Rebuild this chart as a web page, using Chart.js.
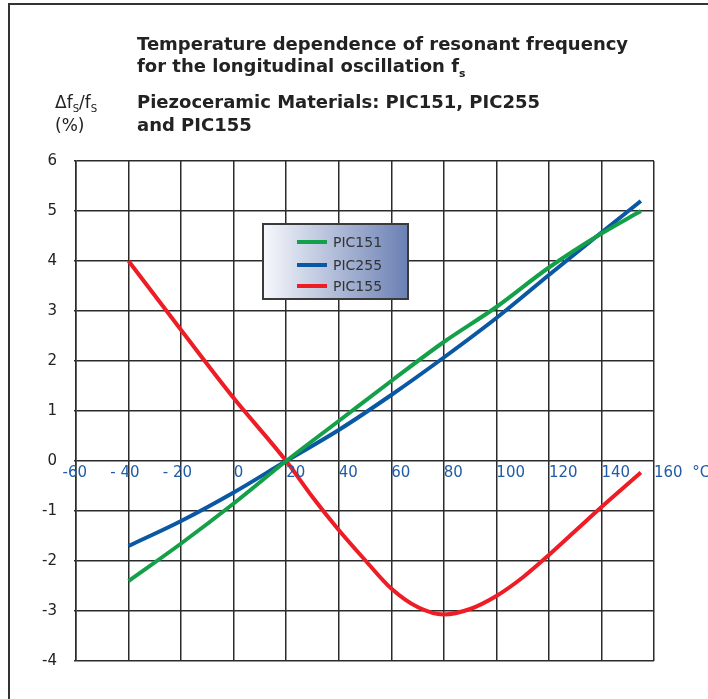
<!DOCTYPE html>
<html>
<head>
<meta charset="utf-8">
<script src="https://cdn.jsdelivr.net/npm/chart.js@4.4.1/dist/chart.umd.min.js"></script>
<style>
  body { margin: 0; background: #fff; overflow: hidden; }
  #wrap { position: relative; width: 708px; height: 699px; overflow: hidden; }
  canvas { position: absolute; left: 0; top: 0; }
  .txt { position: absolute; font-family: 'DejaVu Sans', sans-serif; color: #222; white-space: nowrap; }
  .title { font-weight: 700; font-size: 18px; left: 137px; }
  .unit { font-size: 17px; left: 55px; }
  sub { font-size: 60%; }
</style>
</head>
<body>
<div id="wrap">
  <canvas id="myChart" width="708" height="699"></canvas>
  <div class="txt title" style="top:33px">Temperature dependence of resonant frequency</div>
  <div class="txt title" style="top:55px">for the longitudinal oscillation f<sub>s</sub></div>
  <div class="txt title" style="top:91px">Piezoceramic Materials: PIC151, PIC255</div>
  <div class="txt title" style="top:114px">and PIC155</div>
  <div class="txt unit" style="top:92px">&Delta;f<sub>S</sub>/f<sub>S</sub></div>
  <div class="txt unit" style="top:115px">(%)</div>
</div>
<script>
'use strict';

// data
let tempC = [-40, -20, 0, 20, 40, 60, 80, 100, 120, 140, 155];
let pic151 = [-2.4, -1.65, -0.85, 0, 0.8, 1.6, 2.38, 3.08, 3.87, 4.55, 5.0];
let pic255 = [-1.7, -1.2, -0.63, 0, 0.62, 1.32, 2.07, 2.86, 3.72, 4.57, 5.2];
let tempRed = [-40, -20, 0, 20, 30, 40, 50, 60, 70, 80, 90, 100, 110, 120, 130, 140, 155];
let pic155 = [4.0, 2.62, 1.26, 0, -0.72, -1.38, -1.98, -2.55, -2.92, -3.07, -2.96, -2.7, -2.33, -1.88, -1.4, -0.92, -0.23];
let xTickLabels = ['-60', '- 40', '- 20', '0', '20', '40', '60', '80', '100', '120', '140', '160  \u00b0C'];

function toPoints(xs, ys) {
  let pts = [];
  for (let i = 0; i < xs.length; i++) {
    pts.push({ x: xs[i], y: ys[i] });
  }
  return pts;
}

let gridColor = '#2b2b2b';
let fontFamily = '"DejaVu Sans", sans-serif';

// page frame: a line down the left side and one along the top
let pageFrame = {
  id: 'pageFrame',
  beforeDraw(chart) {
    let ctx = chart.ctx;
    ctx.save();
    ctx.strokeStyle = '#333';
    ctx.lineWidth = 2;
    ctx.beginPath();
    ctx.moveTo(9, chart.height);
    ctx.lineTo(9, 4);
    ctx.lineTo(chart.width, 4);
    ctx.stroke();
    ctx.restore();
  }
};

// x labels sit under the zero line, starting at the grid line
// (negative ones end just past it, like the original)
let zeroLabels = {
  id: 'zeroLabels',
  afterDraw(chart) {
    let ctx = chart.ctx;
    let xs = chart.scales.x;
    let y0 = chart.scales.y.getPixelForValue(0) + 12;
    ctx.save();
    ctx.fillStyle = '#1f5ca8';
    ctx.font = '15px ' + fontFamily;
    ctx.textBaseline = 'middle';
    xs.ticks.forEach((t) => {
      let px = xs.getPixelForValue(t.value);
      let label = xTickLabels[Math.round((t.value + 60) / 20)];
      if (t.value < 0) {
        ctx.textAlign = 'right';
        ctx.fillText(label, px + 11, y0);
      } else {
        ctx.textAlign = 'left';
        ctx.fillText(label, px, y0);
      }
    });
    ctx.restore();
  }
};

// legend box with the gradient fill, drawn inside the plot
let boxLegend = {
  id: 'boxLegend',
  afterDraw(chart) {
    let ctx = chart.ctx;
    let x = 263, y = 224, w = 145, h = 75;
    ctx.save();
    let grad = ctx.createLinearGradient(x, 0, x + w, 0);
    grad.addColorStop(0, '#f7f8fc');
    grad.addColorStop(1, '#6a80b4');
    ctx.fillStyle = grad;
    ctx.fillRect(x, y, w, h);
    ctx.strokeStyle = '#3a3a3a';
    ctx.lineWidth = 2;
    ctx.strokeRect(x, y, w, h);
    let rows = [242, 265, 286];
    chart.data.datasets.forEach((ds, i) => {
      ctx.strokeStyle = ds.borderColor;
      ctx.lineWidth = 4;
      ctx.beginPath();
      ctx.moveTo(297, rows[i]);
      ctx.lineTo(327, rows[i]);
      ctx.stroke();
      ctx.fillStyle = '#333';
      ctx.font = '14px ' + fontFamily;
      ctx.textBaseline = 'middle';
      ctx.fillText(ds.label, 333, rows[i] + 1);
    });
    ctx.restore();
  }
};

let chartObject = {
  type: 'line',
  data: {
    datasets: [{
      label: 'PIC151',
      data: toPoints(tempC, pic151),
      borderColor: '#14a048',
      borderWidth: 4
    },
    {
      label: 'PIC255',
      data: toPoints(tempC, pic255),
      borderColor: '#0a57a3',
      borderWidth: 4
    },
    {
      label: 'PIC155',
      data: toPoints(tempRed, pic155),
      borderColor: '#ee1c25',
      borderWidth: 4
    }]
  },
  options: {
    responsive: false,
    animation: false,
    devicePixelRatio: 1,
    layout: { padding: { left: 0, top: 161, right: 54, bottom: 38 } },
    elements: {
      point: { radius: 0 },
      line: { cubicInterpolationMode: 'monotone', borderCapStyle: 'butt' }
    },
    plugins: {
      legend: { display: false },
      tooltip: { enabled: false }
    },
    scales: {
      x: {
        type: 'linear',
        min: -60,
        max: 160,
        position: { y: 0 },
        afterFit(s) { s.paddingLeft = 0; s.paddingRight = 0; },
        grid: { color: gridColor, lineWidth: 1.5, drawTicks: false },
        border: { display: false },
        ticks: { stepSize: 20, display: false, autoSkip: false }
      },
      y: {
        min: -4,
        max: 6,
        afterFit(s) { s.width = 76; },
        grid: { color: gridColor, lineWidth: 1.5, tickLength: 2 },
        border: { color: gridColor, width: 1.5 },
        ticks: {
          stepSize: 1,
          padding: 17,
          color: '#222',
          font: { family: fontFamily, size: 15 }
        }
      }
    }
  },
  plugins: [pageFrame, zeroLabels, boxLegend]
};

let ctx = document.getElementById('myChart').getContext('2d');
let myChart = new Chart(ctx, chartObject);
</script>
</body>
</html>
